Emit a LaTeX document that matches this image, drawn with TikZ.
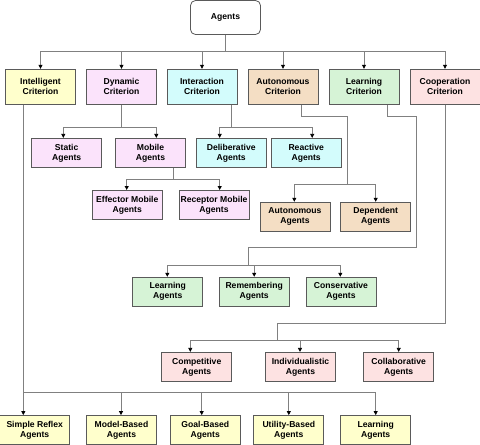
\documentclass[tikz,border=0pt]{standalone}
\usepackage{fontspec}
\setmainfont{Liberation Sans}
\usetikzlibrary{arrows.meta, calc}
\definecolor{cIntel}{HTML}{FFFFCC}
\definecolor{cDyn}{HTML}{FBE3FB}
\definecolor{cInter}{HTML}{D3FCFC}
\definecolor{cAuto}{HTML}{F4DEC4}
\definecolor{cLearn}{HTML}{D6F3D6}
\definecolor{cCoop}{HTML}{FDE2E2}
\definecolor{cLine}{HTML}{808080}
\definecolor{cBorder}{HTML}{5A5A5A}
\tikzset{
  box/.style = {
    rectangle, draw=cBorder, line width=0.8pt,
    minimum width=70pt, minimum height=29pt,
    inner sep=0pt, align=center,
    font=\fontsize{8.6}{10}\selectfont\bfseries
  },
  crit/.style  = {box, minimum height=35pt},
  root/.style  = {box, rounded corners=5pt, fill=white, minimum height=34pt},
  link/.style  = {cLine, line width=0.8pt},
  arr/.style   = {link, -{Triangle[length=4pt,width=4pt,color=black]}}
}
\begin{document}
\begin{tikzpicture}[x=1pt, y=-1pt]
  \useasboundingbox (0,0) rectangle (480,445);

  %% Root
  \node[root] (agents) at (225.5,17.5) {Agents};

  %% Criteria
  \node[crit, fill=cIntel]  (crInt)   at ( 40.5,86.7) {Intelligent\\Criterion};
  \node[crit, fill=cDyn]    (crDyn)   at (121.5,86.7) {Dynamic\\Criterion};
  \node[crit, fill=cInter]  (crInter) at (202.0,86.7) {Interaction\\Criterion};
  \node[crit, fill=cAuto]   (crAuto)  at (283.0,86.7) {Autonomous\\Criterion};
  \node[crit, fill=cLearn]  (crLearn) at (364.0,86.7) {Learning\\Criterion};
  \node[crit, fill=cCoop]   (crCoop)  at (445.0,86.7) {Cooperation\\Criterion};

  %% Agent types
  \node[box, fill=cDyn]   (static)   at ( 66.7,152.8) {Static\\Agents};
  \node[box, fill=cDyn]   (mobile)   at (150.5,152.8) {Mobile\\Agents};
  \node[box, fill=cDyn]   (effector) at (127.3,204.9) {Effector Mobile\\Agents};
  \node[box, fill=cDyn]   (receptor) at (214.0,204.9) {Receptor Mobile\\Agents};
  \node[box, fill=cInter] (delib)    at (231.2,152.8) {Deliberative\\Agents};
  \node[box, fill=cInter] (reactive) at (306.2,152.8) {Reactive\\Agents};
  \node[box, fill=cAuto]  (autoAg)   at (295.0,216.7) {Autonomous\\Agents};
  \node[box, fill=cAuto]  (depAg)    at (375.7,216.7) {Dependent\\Agents};
  \node[box, fill=cLearn] (learnAg)  at (167.8,291.7) {Learning\\Agents};
  \node[box, fill=cLearn] (remAg)    at (254.2,291.7) {Remembering\\Agents};
  \node[box, fill=cLearn] (consAg)   at (341.0,291.7) {Conservative\\Agents};
  \node[box, fill=cCoop]  (compAg)   at (196.7,366.8) {Competitive\\Agents};
  \node[box, fill=cCoop]  (indAg)    at (300.5,366.8) {Individualistic\\Agents};
  \node[box, fill=cCoop]  (collAg)   at (398.7,366.8) {Collaborative\\Agents};
  \node[box, fill=cIntel] (simple)   at ( 34.7,430.0) {Simple Reflex\\Agents};
  \node[box, fill=cIntel] (model)    at (121.5,430.0) {Model-Based\\Agents};
  \node[box, fill=cIntel] (goal)     at (205.3,430.0) {Goal-Based\\Agents};
  \node[box, fill=cIntel] (utility)  at (288.8,430.0) {Utility-Based\\Agents};
  \node[box, fill=cIntel] (learnB)   at (375.7,430.0) {Learning\\Agents};

  %% Junction points
  \coordinate (topBar)   at (225.5, 51.7);
  \coordinate (dynBar)   at (121.5,127.0);
  \coordinate (mobBar)   at (173.0,179.3);
  \coordinate (interBar) at (231.0,127.0);
  \coordinate (autoBend) at (347.0,116.3);
  \coordinate (autoBar)  at (347.0,184.7);
  \coordinate (learnB1)  at (416.3,116.3);
  \coordinate (learnB2)  at (248.3,247.7);
  \coordinate (learnBar) at (248.3,265.3);
  \coordinate (coopBend) at (277.3,323.0);
  \coordinate (coopBar)  at (277.3,340.7);
  \coordinate (intBar)   at ( 23.3,392.3);

  %% Root to criteria
  \draw[link] (agents.south) -- (topBar);
  \foreach \c in {crInt, crDyn, crInter, crAuto, crLearn, crCoop}
    \draw[arr] (topBar) -| (\c.north);

  %% Dynamic
  \draw[link] (crDyn.south) -- (dynBar);
  \draw[arr] (dynBar) -| ([xshift=-3.4pt]static.north);
  \draw[arr] (dynBar) -| ([xshift=5.8pt]mobile.north);
  \draw[link] ([xshift=22.5pt]mobile.south) -- (mobBar);
  \draw[arr] (mobBar) -| ([xshift=-0.6pt]effector.north);
  \draw[arr] (mobBar) -| ([xshift=5.7pt]receptor.north);

  %% Interaction
  \draw[link] ([xshift=29pt]crInter.south) -- (interBar);
  \draw[arr] (interBar) -| ([xshift=-11.5pt]delib.north);
  \draw[arr] (interBar) -| ([xshift=6pt]reactive.north);

  %% Autonomous
  \draw[link] ([xshift=18pt]crAuto.south) |- (autoBend) -- (autoBar);
  \draw[arr] (autoBar) -| ([xshift=-0.7pt]autoAg.north);
  \draw[arr] (autoBar) -| (depAg.north);

  %% Learning
  \draw[link] ([xshift=23.3pt]crLearn.south) |- (learnB1) |- (learnB2) -- (learnBar);
  \draw[arr] (learnBar) -| ([xshift=-0.5pt]learnAg.north);
  \draw[arr] (learnBar) -| (remAg.north);
  \draw[arr] (learnBar) -| ([xshift=-0.7pt]consAg.north);

  %% Cooperation
  \draw[link] (crCoop.south) |- (coopBend) -- (coopBar);
  \draw[arr] (coopBar) -| ([xshift=-6.4pt]compAg.north);
  \draw[arr] (coopBar) -| ([xshift=-0.5pt]indAg.north);
  \draw[arr] (coopBar) -| (collAg.north);

  %% Intelligent
  \draw[arr] ([xshift=-17.2pt]crInt.south) -- ([xshift=-11.4pt]simple.north);
  \draw[arr] (intBar) -| ([xshift=-0.5pt]model.north);
  \draw[arr] (intBar) -| ([xshift=-3.6pt]goal.north);
  \draw[arr] (intBar) -| (utility.north);
  \draw[arr] (intBar) -| (learnB.north);
\end{tikzpicture}
\end{document}
